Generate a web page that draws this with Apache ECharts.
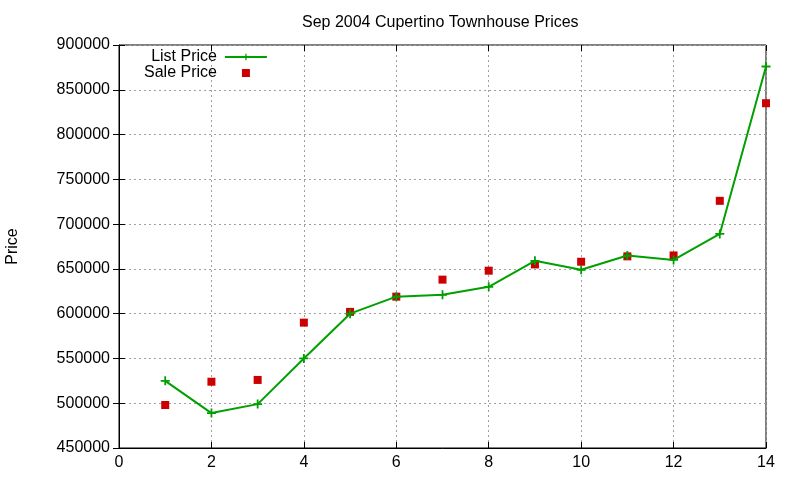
<!DOCTYPE html>
<html lang="en">
<head>
    <meta charset="UTF-8">
    <title>Sep 2004 Cupertino Townhouse Prices</title>
    <script type="text/javascript" src="https://cdn.jsdelivr.net/npm/echarts@6.0.0/dist/echarts.min.js"></script>
    <style>
        html, body { margin: 0; padding: 0; background: #fff; }
        #container { width: 800px; height: 480px; }
    </style>
</head>
<body>
<div id="container"></div>
<script>
    // data
    var months = [1, 2, 3, 4, 5, 6, 7, 8, 9, 10, 11, 12, 13, 14];
    var listPrice = [525000, 489000, 499000, 550000, 600000, 619000, 621000, 630000, 659000, 649000, 665000, 660000, 689000, 876000];
    var salePrice = [498000, 524000, 526000, 590000, 602000, 619000, 638000, 648000, 655000, 658000, 664000, 665000, 726000, 835000];

    var xTicks = {min: 0, max: 14, interval: 2};
    var yTicks = {min: 450000, max: 900000, interval: 50000};

    var font = 'Liberation Sans, Arial, sans-serif';
    var plus = 'path://M3.2,0H4.8V3.2H8V4.8H4.8V8H3.2V4.8H0V3.2H3.2Z';
    var square = 'path://M0,0H10V10H0Z';

    function pairs(xs, ys) {
        var out = [];
        for (var i = 0; i < xs.length; i++) out.push([xs[i], ys[i]]);
        return out;
    }

    var dom = document.getElementById('container');
    var myChart = echarts.init(dom, null, {renderer: 'canvas'});

    var gridLine = {show: true, lineStyle: {color: '#a0a0a0', type: [2, 3], width: 1}};
    var mirror = {
        axisLine: {show: false},
        axisTick: {show: true, inside: true, length: 6, lineStyle: {color: '#000'}},
        axisLabel: {show: false},
        splitLine: {show: false}
    };

    var option = {
        backgroundColor: '#fff',
        animation: false,
        title: {
            text: 'Sep 2004 Cupertino Townhouse Prices',
            left: 297,
            top: 10,
            textStyle: {fontFamily: font, fontSize: 16, fontWeight: 'normal', color: '#000'}
        },
        legend: {
            orient: 'vertical',
            left: 139,
            top: 44,
            align: 'right',
            itemWidth: 42,
            itemHeight: 8,
            itemGap: 0,
            symbolKeepAspect: true,
            textStyle: {fontFamily: font, fontSize: 16, color: '#000', padding: [0, 3, 0, 0]},
            data: [{name: 'List Price'}, {name: 'Sale Price', icon: square}]
        },
        grid: {
            left: 119, right: 34, top: 45, bottom: 32,
            outerBoundsMode: 'none',
            show: true, borderColor: '#000', borderWidth: 1
        },
        xAxis: [{
            type: 'value',
            min: xTicks.min, max: xTicks.max, interval: xTicks.interval,
            axisLine: {show: true, lineStyle: {color: '#000'}},
            axisTick: {show: true, inside: true, length: 6, lineStyle: {color: '#000'}},
            axisLabel: {fontFamily: font, fontSize: 16, color: '#000', margin: 7},
            splitLine: gridLine
        }, Object.assign({
            type: 'value', position: 'top',
            min: xTicks.min, max: xTicks.max, interval: xTicks.interval
        }, mirror)],
        yAxis: [{
            type: 'value',
            min: yTicks.min, max: yTicks.max, interval: yTicks.interval,
            name: 'Price',
            nameLocation: 'middle',
            nameGap: 98,
            nameRotate: 90,
            nameTextStyle: {fontFamily: font, fontSize: 16, color: '#000'},
            axisLine: {show: true, lineStyle: {color: '#000'}},
            axisTick: {show: true, inside: true, length: 6, lineStyle: {color: '#000'}},
            axisLabel: {
                fontFamily: font, fontSize: 16, color: '#000', margin: 9,
                formatter: function (v) { return String(v); }
            },
            splitLine: gridLine
        }, Object.assign({
            type: 'value', position: 'right',
            min: yTicks.min, max: yTicks.max, interval: yTicks.interval
        }, mirror)],
        series: [{
            name: 'List Price',
            type: 'line',
            data: pairs(months, listPrice),
            symbol: plus,
            symbolSize: 9,
            showAllSymbol: true,
            lineStyle: {color: '#00a000', width: 2},
            itemStyle: {color: '#00a000'}
        }, {
            name: 'Sale Price',
            type: 'scatter',
            data: pairs(months, salePrice),
            symbol: 'rect',
            symbolSize: 8,
            itemStyle: {color: '#cc0000', opacity: 1}
        }]
    };

    myChart.setOption(option, true);
</script>
</body>
</html>
